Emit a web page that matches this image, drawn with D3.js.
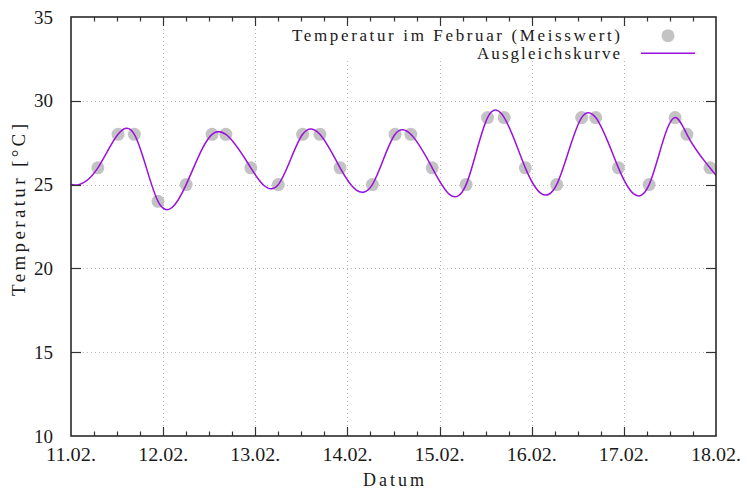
<!DOCTYPE html>
<html><head><meta charset="utf-8">
<script src="https://cdn.jsdelivr.net/npm/d3@7"></script>
<style>
body{margin:0;background:#fff}
svg text{font-family:"Liberation Serif","DejaVu Serif",serif;fill:#1a1a1a}
</style>
</head><body>
<svg id="c" width="747" height="492"></svg>
<script>
// ---- data ----
const measureTimes = [
  "11.02. 07:00","11.02. 12:15","11.02. 16:30","11.02. 22:40",
  "12.02. 06:00","12.02. 12:45","12.02. 16:20","12.02. 22:50",
  "13.02. 06:00","13.02. 12:20","13.02. 16:50","13.02. 22:05",
  "14.02. 06:30","14.02. 12:25","14.02. 16:30","14.02. 22:05",
  "15.02. 06:55","15.02. 12:30","15.02. 16:50","15.02. 22:20",
  "16.02. 06:30","16.02. 13:00","16.02. 16:40","16.02. 22:35",
  "17.02. 06:35","17.02. 13:20","17.02. 16:25","17.02. 22:25"
];
const measureValues = [
  26,28,28,24,
  25,28,28,26,
  25,28,28,26,
  25,28,28,26,
  25,29,29,26,
  25,29,29,26,
  25,29,28,26
];
// fit curve nodes (incl. neighbours at/outside the visible range, clipped away)
const fitTimes = ["10.02. 18:00","11.02. 00:00"].concat(measureTimes, ["18.02. 06:30","18.02. 12:30"]);
const fitValues = [26,25].concat(measureValues, [25,28]);

const xTickLabels = ["11.02.","12.02.","13.02.","14.02.","15.02.","16.02.","17.02.","18.02."];
const yTickValues = [10,15,20,25,30,35];
const legendLabels = ["Temperatur im Februar (Meisswert)","Ausgleichskurve"];
const xTitle = "Datum";
const yTitle = "Temperatur [°C]";

// ---- natural cubic spline y(x) as a d3 curve factory ----
function NaturalX(context){ this._context = context; }
NaturalX.prototype = {
  areaStart(){ this._line = 0; },
  areaEnd(){ this._line = NaN; },
  lineStart(){ this._x = []; this._y = []; },
  point(x, y){ this._x.push(+x); this._y.push(+y); },
  lineEnd(){
    const X = this._x, Y = this._y, n = X.length, ctx = this._context;
    if (!n) return;
    ctx.moveTo(X[0], Y[0]);
    if (n === 2) { ctx.lineTo(X[1], Y[1]); return; }
    const h = [];
    for (let i = 0; i < n - 1; i++) h.push(X[i+1] - X[i]);
    const a = [], b = [], c = [], d = [];
    for (let i = 1; i < n - 1; i++) {
      a.push(h[i-1]); b.push(2 * (h[i-1] + h[i])); c.push(h[i]);
      d.push(6 * ((Y[i+1] - Y[i]) / h[i] - (Y[i] - Y[i-1]) / h[i-1]));
    }
    const m = b.length;
    for (let k = 1; k < m; k++) { const w = a[k] / b[k-1]; b[k] -= w * c[k-1]; d[k] -= w * d[k-1]; }
    const sol = new Array(m);
    sol[m-1] = d[m-1] / b[m-1];
    for (let k = m - 2; k >= 0; k--) sol[k] = (d[k] - c[k] * sol[k+1]) / b[k];
    const M = [0].concat(sol, [0]);
    for (let i = 0; i < n - 1; i++) {
      const hi = h[i], s = (Y[i+1] - Y[i]) / hi;
      const m0 = s - hi * (2 * M[i] + M[i+1]) / 6;
      const m1 = s + hi * (M[i] + 2 * M[i+1]) / 6;
      ctx.bezierCurveTo(X[i] + hi / 3, Y[i] + m0 * hi / 3, X[i+1] - hi / 3, Y[i+1] - m1 * hi / 3, X[i+1], Y[i+1]);
    }
  }
};
const curveNaturalX = ctx => new NaturalX(ctx);

// ---- layout ----
const L = 71, R = 716, T = 17, B = 436;
const parse = d3.timeParse("%d.%m. %H:%M");
const svg = d3.select("#c");

const x = d3.scaleTime()
  .domain([parse(xTickLabels[0] + " 00:00"), parse(xTickLabels[xTickLabels.length-1] + " 00:00")])
  .range([L, R]);
const y = d3.scaleLinear().domain([10, 35]).range([B, T]);

const majorX = xTickLabels.map(s => parse(s + " 00:00"));
const minorX = d3.timeHour.every(6).range(x.domain()[0], x.domain()[1]).filter(d => d.getHours() !== 0);

// grid
const grid = svg.append("g").attr("stroke", "#b8b8b8").attr("stroke-width", 1).attr("stroke-dasharray", "1,3");
grid.selectAll("line.gx").data(majorX.slice(1, -1)).join("line")
  .attr("x1", d => Math.round(x(d)) + 0.5).attr("x2", d => Math.round(x(d)) + 0.5)
  .attr("y1", T).attr("y2", B);
grid.selectAll("line.gy").data(yTickValues.slice(1, -1)).join("line")
  .attr("y1", d => Math.round(y(d)) + 0.5).attr("y2", d => Math.round(y(d)) + 0.5)
  .attr("x1", L).attr("x2", R);

// opaque legend box
svg.append("rect").attr("x", 284).attr("y", 19).attr("width", 420).attr("height", 41).attr("fill", "#fff");

// clip
svg.append("clipPath").attr("id", "clip").append("rect")
  .attr("x", L).attr("y", T).attr("width", R - L).attr("height", B - T);

const plot = svg.append("g").attr("clip-path", "url(#clip)");

// points
const pts = measureTimes.map((t, i) => ({t: parse(t), v: measureValues[i]}));
plot.selectAll("circle").data(pts).join("circle")
  .attr("cx", d => x(d.t)).attr("cy", d => y(d.v)).attr("r", 6.5)
  .attr("fill", "#c3c3c3");

// fit curve
const fit = fitTimes.map((t, i) => ({t: parse(t), v: fitValues[i]}));
const line = d3.line().x(d => x(d.t)).y(d => y(d.v)).curve(curveNaturalX);
plot.append("path").datum(fit).attr("d", line)
  .attr("fill", "none").attr("stroke", "#9a10dc").attr("stroke-width", 1.5);

// axes: ticks on all four sides (inward)
const tk = svg.append("g").attr("stroke", "#333").attr("stroke-width", 1.2);
majorX.slice(1, -1).forEach(d => {
  const xx = Math.round(x(d)) + 0.5;
  tk.append("line").attr("x1", xx).attr("x2", xx).attr("y1", B).attr("y2", B - 9);
  tk.append("line").attr("x1", xx).attr("x2", xx).attr("y1", T).attr("y2", T + 9);
});
minorX.forEach(d => {
  const xx = Math.round(x(d)) + 0.5;
  tk.append("line").attr("x1", xx).attr("x2", xx).attr("y1", B).attr("y2", B - 4.5);
  tk.append("line").attr("x1", xx).attr("x2", xx).attr("y1", T).attr("y2", T + 4.5);
});
yTickValues.slice(1, -1).forEach(v => {
  const yy = Math.round(y(v)) + 0.5;
  tk.append("line").attr("x1", L).attr("x2", L + 10).attr("y1", yy).attr("y2", yy);
  tk.append("line").attr("x1", R).attr("x2", R - 10).attr("y1", yy).attr("y2", yy);
});

// border
svg.append("rect").attr("x", L).attr("y", T).attr("width", R - L).attr("height", B - T)
  .attr("fill", "none").attr("stroke", "#2a2a2a").attr("stroke-width", 1.6);

// tick labels
svg.selectAll("text.xl").data(xTickLabels).join("text")
  .attr("class", "xl")
  .attr("x", d => x(parse(d + " 00:00"))).attr("y", 461)
  .attr("text-anchor", "middle").attr("font-size", 18)
  .attr("textLength", 50).attr("lengthAdjust", "spacingAndGlyphs")
  .text(d => d);
svg.selectAll("text.yl").data(yTickValues).join("text")
  .attr("class", "yl")
  .attr("x", 53).attr("y", d => y(d) + 6.5)
  .attr("text-anchor", "end").attr("font-size", 19)
  .text(d => d);

// titles
svg.append("text").attr("x", (L + R) / 2).attr("y", 486)
  .attr("text-anchor", "middle").attr("font-size", 18)
  .attr("textLength", 61).attr("lengthAdjust", "spacing")
  .text(xTitle);
svg.append("text").attr("transform", "translate(25,210) rotate(-90)")
  .attr("text-anchor", "middle").attr("font-size", 19)
  .attr("textLength", 172).attr("lengthAdjust", "spacing")
  .text(yTitle);

// legend
svg.append("text").attr("x", 620).attr("y", 40.5).attr("text-anchor", "end")
  .attr("font-size", 17).attr("textLength", 328).attr("lengthAdjust", "spacing")
  .text(legendLabels[0]);
svg.append("text").attr("x", 620).attr("y", 58.5).attr("text-anchor", "end")
  .attr("font-size", 17).attr("textLength", 143).attr("lengthAdjust", "spacing")
  .text(legendLabels[1]);
svg.append("circle").attr("cx", 668).attr("cy", 35.7).attr("r", 6.5).attr("fill", "#c3c3c3");
svg.append("line").attr("x1", 641).attr("x2", 695).attr("y1", 53.3).attr("y2", 53.3)
  .attr("stroke", "#9a10dc").attr("stroke-width", 1.5);
</script>
</body></html>
